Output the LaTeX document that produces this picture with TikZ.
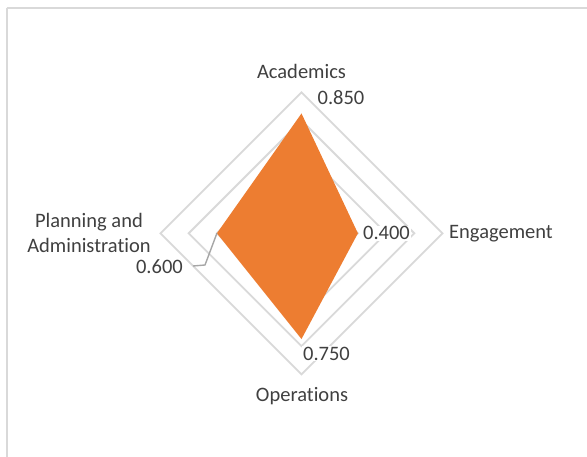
\documentclass[tikz,border=0pt]{standalone}
\usepackage{fontspec}
\setmainfont{Carlito}[Ligatures=NoCommon]
\usetikzlibrary{calc}
\definecolor{ringgray}{HTML}{D9D9D9}
\definecolor{txtgray}{HTML}{404040}
\definecolor{leadgray}{HTML}{A6A6A6}
\definecolor{xlorange}{HTML}{ED7D31}
\begin{document}
\begin{tikzpicture}[x=1pt,y=-1pt,
  ring/.style={draw=ringgray,line width=1.8pt},
  cat/.style={text=txtgray,font=\fontsize{20.5}{24.5}\selectfont,inner sep=0pt},
  val/.style={text=txtgray,font=\fontsize{20.5}{24.5}\selectfont,inner sep=1pt,fill=white},
  lead/.style={draw=leadgray,line width=1.4pt},
  frame/.style={draw=ringgray,line width=2pt}]
\useasboundingbox (0,0) rectangle (587,457);
\fill[white] (0,0) rectangle (587,457);
\draw[frame] (6.5,8.3) -- (600,8.3) (6.5,8.3) -- (6.5,470);
\coordinate (c) at (301.5,233.3);
\foreach \k in {0.2,0.4,0.6,0.8,1.0}{
  \draw[ring] ($(c)+(0,-141*\k)$) -- ($(c)+(141*\k,0)$) -- ($(c)+(0,141*\k)$) -- ($(c)+(-141*\k,0)$) -- cycle;
}
\coordinate (pa) at ($(c)+(0,-119.85)$);
\coordinate (pe) at ($(c)+(56.4,0)$);
\coordinate (po) at ($(c)+(0,105.75)$);
\coordinate (pp) at ($(c)+(-84.6,0)$);
\fill[xlorange] (pa) -- (pe) -- (po) -- (pp) -- cycle;
\node[cat,anchor=base] (acad) at (301.5,78.3) {Academics};
\node[cat,anchor=base] (oper) at (302,401.5) {Operations};
\node[cat,anchor=base west] (eng) at (449,238.3) {Engagement};
\node[cat,align=center,anchor=center] (plan) at (89,233) {Planning and\\[0.5pt]Administration};
\node[val,anchor=base] (v850) at (341,104.3) {0.850};
\node[val,anchor=base] (v400) at (386.5,240) {0.400};
\node[val,anchor=base] (v750) at (326.5,360) {0.750};
\node[val,anchor=base east,fill=none] (v600) at (184,273.3) {0.600};
\coordinate (l1) at (205,265);
\coordinate (l2) at (193,266);
\draw[lead] (pp) -- (l1) -- (l2);
\end{tikzpicture}
\end{document}
